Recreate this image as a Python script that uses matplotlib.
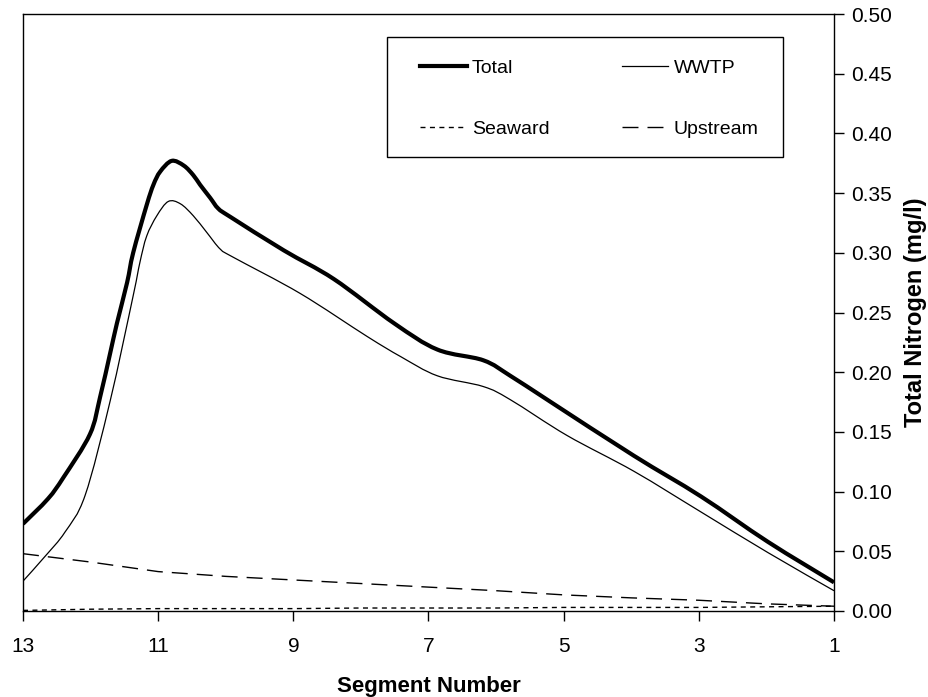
import matplotlib
matplotlib.use("Agg")
import matplotlib.pyplot as plt
from matplotlib.patches import Rectangle, PathPatch
from matplotlib.path import Path
from matplotlib.lines import Line2D

plt.rcParams['font.family'] = ['Liberation Sans', 'DejaVu Sans']

# ---- data ----
total_x = [13, 12.63, 12.40, 12.01, 11.86, 11.71, 11.61, 11.46, 11.37, 11.17,
           11.07, 10.97, 10.80, 10.62, 10.48, 10.38, 10.23, 10.11, 9.93, 9.14, 8.40,
           7.51, 6.87, 6.19, 5.79, 5.19, 3.96, 2.97, 1.98, 1]
total_y = [0.073, 0.094, 0.112, 0.148, 0.179, 0.216, 0.241, 0.275, 0.300, 0.340,
           0.357, 0.368, 0.377, 0.373, 0.365, 0.357, 0.346, 0.337, 0.330, 0.302, 0.278,
           0.241, 0.219, 0.210, 0.197, 0.175, 0.130, 0.096, 0.058, 0.024]

wwtp_x = [13, 12.67, 12.38, 12.08, 11.71, 11.37, 11.27, 11.17, 11.02,
          10.85, 10.67, 10.48, 10.28, 10.08, 9.88, 8.90, 7.91, 7.41, 6.87, 6.19,
          5.79, 4.95, 3.96, 2.97, 1.98, 1]
wwtp_y = [0.025, 0.046, 0.066, 0.097, 0.176, 0.264, 0.292, 0.314, 0.331,
          0.343, 0.341, 0.331, 0.317, 0.303, 0.296, 0.266, 0.230, 0.213, 0.197, 0.188,
          0.177, 0.147, 0.117, 0.083, 0.049, 0.017]

segments = [13, 12, 11, 10, 9, 8, 7, 6, 5, 4, 3, 2, 1]
upstream_y = [0.048, 0.041, 0.033, 0.029, 0.026, 0.023, 0.020, 0.017, 0.0135, 0.011, 0.009, 0.006, 0.004]
seaward_y = [0.0005, 0.0015, 0.002, 0.002, 0.002, 0.0025, 0.0025, 0.0025, 0.003, 0.003, 0.003, 0.0035, 0.004]

xticks = [13, 11, 9, 7, 5, 3, 1]
yticks = [0.00, 0.05, 0.10, 0.15, 0.20, 0.25, 0.30, 0.35, 0.40, 0.45, 0.50]


def smooth_path(xs, ys, tension=1 / 6):
    """Catmull-Rom style smoothed line through the given points, as a Bezier path."""
    verts = [(xs[0], ys[0])]
    codes = [Path.MOVETO]
    n = len(xs)
    for i in range(n - 1):
        x0, y0 = (xs[i - 1], ys[i - 1]) if i > 0 else (xs[i], ys[i])
        x1, y1 = xs[i], ys[i]
        x2, y2 = xs[i + 1], ys[i + 1]
        x3, y3 = (xs[i + 2], ys[i + 2]) if i + 2 < n else (x2, y2)
        c1 = (x1 + (x2 - x0) * tension, y1 + (y2 - y0) * tension)
        c2 = (x2 - (x3 - x1) * tension, y2 - (y3 - y1) * tension)
        verts += [c1, c2, (x2, y2)]
        codes += [Path.CURVE4] * 3
    return Path(verts, codes)


# ---- figure ----
W, H = 929, 697
fig = plt.figure(figsize=(W / 100, H / 100), dpi=100)
ax = fig.add_axes([23 / W, 1 - 611 / H, (834 - 23) / W, (611 - 14) / H])

ax.add_patch(PathPatch(smooth_path(total_x, total_y), fill=False, edgecolor='black',
                       lw=3.0, joinstyle='round', capstyle='butt'))
ax.add_patch(PathPatch(smooth_path(wwtp_x, wwtp_y), fill=False, edgecolor='black', lw=0.9))
l_sea, = ax.plot(segments, seaward_y, color='black', lw=1.0, dashes=(3.6, 3.2), label='Seaward')
l_up, = ax.plot(segments, upstream_y, color='black', lw=1.0, dashes=(11.5, 6.5), label='Upstream')
l_total = Line2D([], [], color='black', lw=3.0, label='Total')
l_wwtp = Line2D([], [], color='black', lw=0.9, label='WWTP')

ax.set_xlim(13, 1)
ax.set_ylim(0, 0.5)
ax.set_xticks(xticks)
ax.set_xticklabels([str(v) for v in xticks], fontsize=15)
ax.yaxis.tick_right()
ax.yaxis.set_label_position('right')
ax.set_yticks(yticks)
ax.set_yticklabels([f"{v:.2f}" for v in yticks], fontsize=15)
ax.tick_params(axis='x', direction='out', length=7, width=1, pad=12)
ax.tick_params(axis='y', direction='out', length=7, width=1, pad=5)
for s in ax.spines.values():
    s.set_linewidth(1.0)

ax.set_xlabel('Segment Number', fontsize=16, fontweight='bold', labelpad=14)
ax.set_ylabel('Total Nitrogen (mg/l)', fontsize=17, fontweight='bold', labelpad=9)

# legend box
ax.add_patch(Rectangle((387 / W, 1 - 157 / H), (783 - 387) / W, (157 - 37) / H,
                       transform=fig.transFigure, fill=True, facecolor='white',
                       edgecolor='black', lw=1.0, zorder=5, clip_on=False))
leg = ax.legend(handles=[l_total, l_sea, l_wwtp, l_up], ncol=2, frameon=False,
                loc='upper left', bbox_to_anchor=(420 / W, 1 - 59 / H),
                bbox_transform=fig.transFigure, fontsize=14, borderpad=0,
                handlelength=2.4, handletextpad=0.28, columnspacing=3.7,
                labelspacing=2.25, borderaxespad=0)
leg.set_zorder(6)

fig.savefig('out.png', dpi=100)
